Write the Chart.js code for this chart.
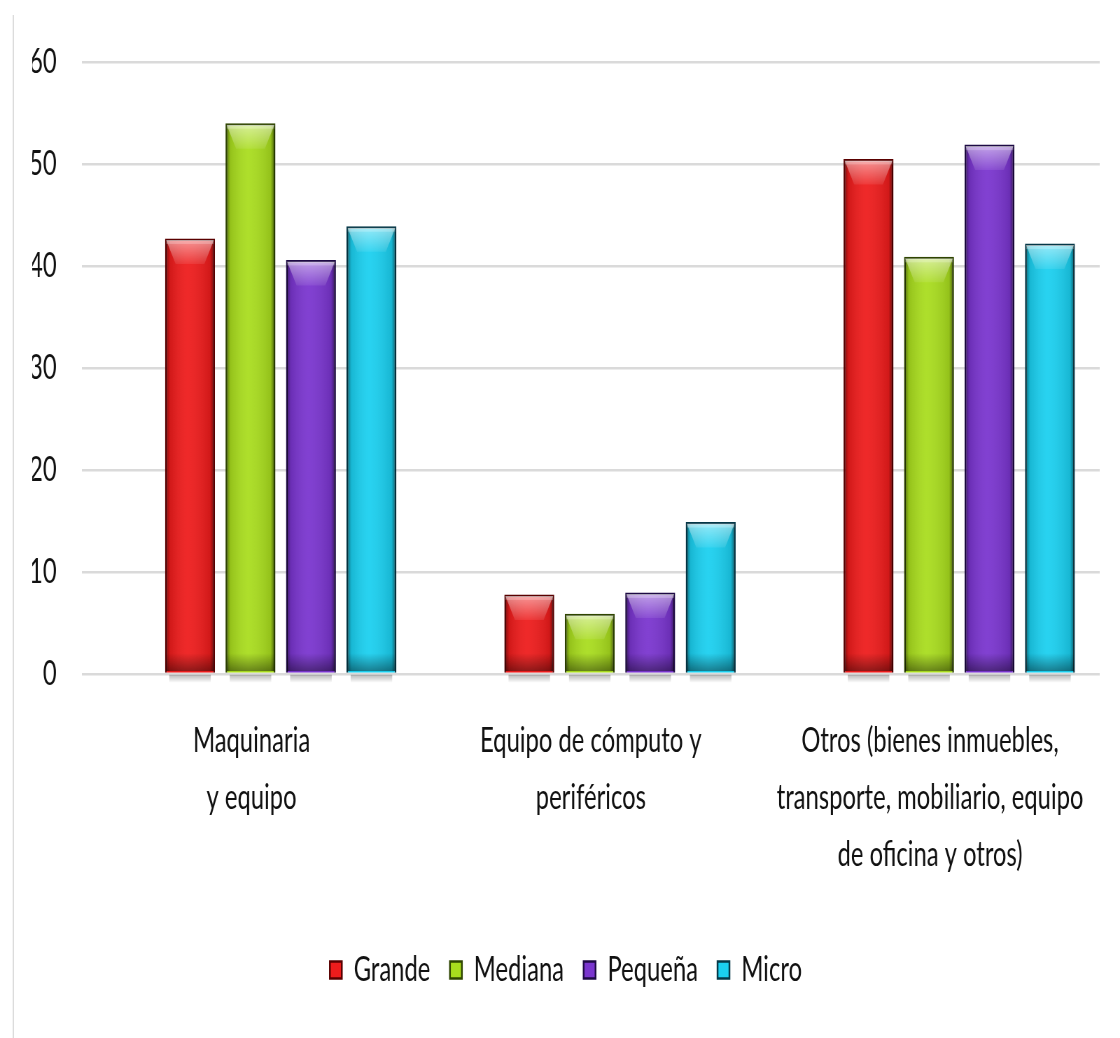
<!DOCTYPE html>
<html>
<head>
<meta charset="utf-8">
<script src="https://cdn.jsdelivr.net/npm/chart.js@4.4.1/dist/chart.umd.min.js"></script>
<style>
  html, body { margin: 0; padding: 0; background: #fff; overflow: hidden; }
  /* the original picture is squeezed sideways, so draw wide and squeeze it */
  #wrap { width: 1600px; height: 1038px; transform: scaleX(0.7); transform-origin: 0 0; }
</style>
</head>
<body>
<div id="wrap"><canvas id="chart" width="1600" height="1038"></canvas></div>
<script>
const categories = [
  ['Maquinaria', 'y equipo'],
  ['Equipo de cómputo y', 'periféricos'],
  ['Otros (bienes inmuebles,', 'transporte, mobiliario, equipo', 'de oficina y otros)']
];
const seriesNames = ['Grande', 'Mediana', 'Pequeña', 'Micro'];
const grande  = [42.7, 7.8, 50.5];
const mediana = [54.0, 5.9, 40.9];
const pequena = [40.6, 8.0, 51.9];
const micro   = [43.9, 14.9, 42.2];
const yTicks  = [0, 10, 20, 30, 40, 50, 60];

const colors  = ['#ee1c1c', '#a9dd1e', '#7a35cf', '#1bd0f0'];
const borders = ['#5a0000', '#2f4500', '#1e0a45', '#053848'];

const FONT = 'Lato';
const TEXT = '#111111';

// bars sit a bit right of the label centres in the original,
// so they go on their own hidden linear axis
function points(values) {
  return values.map((v, i) => ({ x: i, y: v }));
}

const datasets = [grande, mediana, pequena, micro].map((vals, i) => ({
  label: seriesNames[i],
  data: points(vals),
  xAxisID: 'xb',
  backgroundColor: colors[i],
  borderColor: borders[i],
  borderWidth: 2.5,
  categoryPercentage: 0.713,
  barPercentage: 0.826
}));

const frame = {
  id: 'frame',
  beforeDraw(chart) {
    const ctx = chart.ctx;
    ctx.save();
    ctx.strokeStyle = '#dcdcdc';
    ctx.lineWidth = 2;
    ctx.beginPath();
    ctx.moveTo(19, 15);
    ctx.lineTo(19, chart.height);
    ctx.stroke();
    ctx.restore();
  }
};

// glossy look: side shading, darker foot, light bevel on top, soft shadow under
const bevel = {
  id: 'bevel',
  beforeDatasetsDraw(chart) {
    const ctx = chart.ctx;
    chart.data.datasets.forEach((ds, di) => {
      chart.getDatasetMeta(di).data.forEach(bar => {
        const { x, base, width } = bar.getProps(['x', 'base', 'width'], true);
        const l = x - width / 2;
        const g = ctx.createLinearGradient(0, base + 2, 0, base + 10);
        g.addColorStop(0, 'rgba(0,0,0,0.28)');
        g.addColorStop(1, 'rgba(0,0,0,0)');
        ctx.save();
        ctx.fillStyle = g;
        ctx.fillRect(l + 6, base + 2, width - 12, 8);
        ctx.restore();
      });
    });
  },
  afterDatasetsDraw(chart) {
    const ctx = chart.ctx;
    chart.data.datasets.forEach((ds, di) => {
      chart.getDatasetMeta(di).data.forEach(bar => {
        const { x, y, base, width } = bar.getProps(['x', 'y', 'base', 'width'], true);
        const l = x - width / 2 + 1.5, r = x + width / 2 - 1.5;
        const t = y + 1.5, b = base - 1.5;
        const w = r - l;
        ctx.save();
        ctx.beginPath();
        ctx.rect(l, t, w, b - t);
        ctx.clip();

        const side = ctx.createLinearGradient(l, 0, r, 0);
        side.addColorStop(0, 'rgba(0,0,0,0.45)');
        side.addColorStop(0.08, 'rgba(0,0,0,0.12)');
        side.addColorStop(0.45, 'rgba(255,255,255,0.06)');
        side.addColorStop(0.92, 'rgba(0,0,0,0.12)');
        side.addColorStop(1, 'rgba(0,0,0,0.5)');
        ctx.fillStyle = side;
        ctx.fillRect(l, t, w, b - t);

        const foot = ctx.createLinearGradient(0, b - 18, 0, b);
        foot.addColorStop(0, 'rgba(0,0,0,0)');
        foot.addColorStop(1, 'rgba(0,0,0,0.4)');
        ctx.fillStyle = foot;
        ctx.fillRect(l, b - 18, w, 18);

        const cap = ctx.createLinearGradient(0, t, 0, t + 24);
        cap.addColorStop(0, 'rgba(255,255,255,0.5)');
        cap.addColorStop(1, 'rgba(255,255,255,0.08)');
        ctx.fillStyle = cap;
        ctx.beginPath();
        ctx.moveTo(l, t);
        ctx.lineTo(r, t);
        ctx.lineTo(r - w * 0.2, t + 24);
        ctx.lineTo(l + w * 0.2, t + 24);
        ctx.closePath();
        ctx.fill();
        ctx.fillStyle = 'rgba(255,255,255,0.22)';
        ctx.fillRect(l, t, w, 4);
        ctx.restore();
      });
    });
  }
};

new Chart(document.getElementById('chart'), {
  type: 'bar',
  data: { labels: categories, datasets: datasets },
  plugins: [frame, bevel],
  options: {
    responsive: false,
    animation: false,
    devicePixelRatio: 1,
    layout: { padding: { top: 62, right: 29, left: 46, bottom: 41 } },
    plugins: {
      tooltip: { enabled: false },
      legend: {
        position: 'bottom',
        labels: {
          font: { family: FONT, size: 34 },
          color: TEXT,
          boxWidth: 17,
          boxHeight: 17,
          padding: 28
        }
      }
    },
    scales: {
      x: {
        type: 'category',
        offset: true,
        grid: { display: false, drawTicks: false },
        border: { display: false },
        ticks: {
          font: { family: FONT, size: 34, lineHeight: 1.68 },
          color: TEXT,
          padding: 38,
          maxRotation: 0,
          autoSkip: false
        },
        afterFit(scale) { scale.height = 251; }
      },
      xb: {
        type: 'linear',
        display: false,
        offset: false,
        bounds: 'data',
        min: -0.586,
        max: 2.414,
        afterBuildTicks(scale) { scale.ticks = [0, 1, 2].map(v => ({ value: v })); }
      },
      y: {
        min: 0,
        max: 60,
        grid: { color: '#dadada', lineWidth: 2.5, drawTicks: false },
        border: { display: false },
        afterBuildTicks(scale) { scale.ticks = yTicks.map(v => ({ value: v })); },
        ticks: {
          font: { family: FONT, size: 34 },
          color: TEXT,
          padding: 36
        },
        afterFit(scale) { scale.width = 71; }
      }
    }
  }
});
</script>
</body>
</html>
